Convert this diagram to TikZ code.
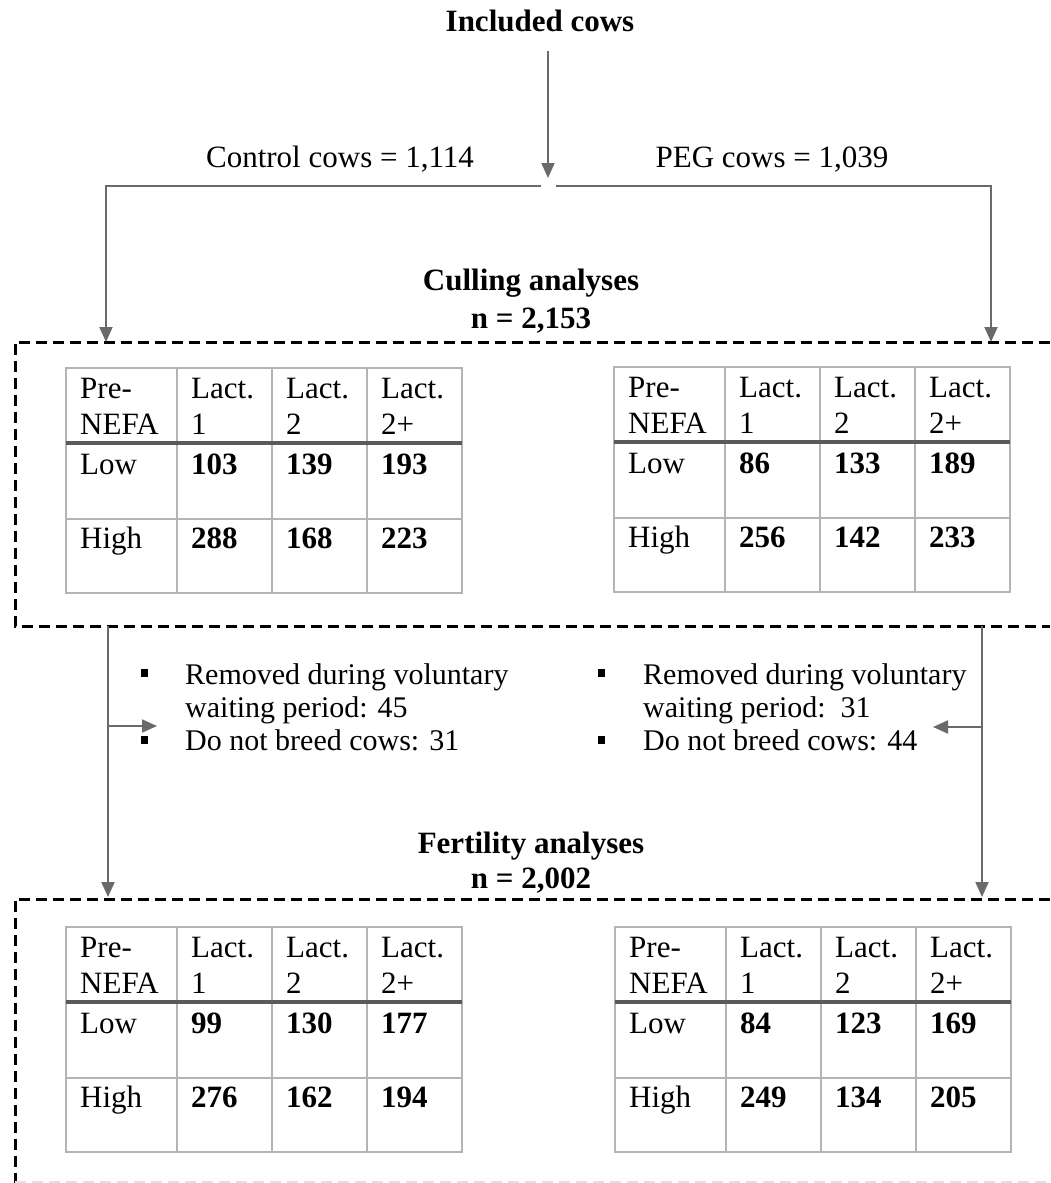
\documentclass[tikz,border=0pt]{standalone}
\usepackage{fontspec}
\setmainfont{Liberation Serif}
\usetikzlibrary{arrows.meta}
\definecolor{arrgray}{HTML}{6A6A6A}
\definecolor{tabgray}{HTML}{B4B4B4}
\definecolor{headgray}{HTML}{5A5A5A}
\tikzset{
  arr/.style={draw=arrgray, line width=2pt, -{Triangle[width=13pt,length=15pt]}},
  plain/.style={draw=arrgray, line width=2pt},
  dashbox/.style={draw=black, line width=3pt, dash pattern=on 11pt off 6pt},
  tabline/.style={draw=tabgray, line width=2pt},
  headline/.style={draw=headgray, line width=4.5pt},
  txt/.style={inner sep=0pt, anchor=base west, font=\fontsize{31}{36}\selectfont},
  ctxt/.style={inner sep=0pt, anchor=base, font=\fontsize{31}{36}\selectfont},
  btxt/.style={inner sep=0pt, anchor=base, font=\fontsize{31}{36}\selectfont\bfseries},
  cell/.style={inner sep=0pt, anchor=base west, font=\fontsize{31}{36}\selectfont},
  bcell/.style={inner sep=0pt, anchor=base west, font=\fontsize{31}{36}\selectfont\bfseries},
  bul/.style={inner sep=0pt, anchor=base west, font=\fontsize{30}{33}\selectfont},
}
\newcommand\cowtab[9]{%
\begin{scope}[shift={(#2,#3)}]
\draw[tabline] (0,0) rectangle (396,225);
\draw[tabline] (111,0) -- (111,225) (206,0) -- (206,225) (301,0) -- (301,225);
\draw[tabline] (0,151) -- (396,151);
\draw[headline] (0,75) -- (396,75);
\node[cell] (#1a) at (14,30) {Pre-};
\node[cell] (#1b) at (14,66) {NEFA};
\node[cell] (#1c) at (125,30) {Lact.};
\node[cell] (#1d) at (125,66) {1};
\node[cell] (#1e) at (220,30) {Lact.};
\node[cell] (#1f) at (220,66) {2};
\node[cell] (#1g) at (315,30) {Lact.};
\node[cell] (#1h) at (315,66) {2+};
\node[cell] (#1i) at (14,106) {Low};
\node[cell] (#1j) at (14,180) {High};
\node[bcell] (#1k) at (125,106) {#4};
\node[bcell] (#1l) at (220,106) {#5};
\node[bcell] (#1m) at (315,106) {#6};
\node[bcell] (#1n) at (125,180) {#7};
\node[bcell] (#1o) at (220,180) {#8};
\node[bcell] (#1p) at (315,180) {#9};
\end{scope}}
\begin{document}
\begin{tikzpicture}[x=1pt,y=-1pt]
\useasboundingbox (0,0) rectangle (1050,1183);
\fill[white] (0,0) rectangle (1050,1183);

% titles
\node[btxt] (inc) at (540,31) {Included cows};
\node[ctxt] (ctl) at (340,167) {Control cows = 1,114};
\node[ctxt] (peg) at (772,167) {PEG cows = 1,039};
\node[btxt] (cul) at (531,290) {Culling analyses};
\node[btxt] (culn) at (531,328) {n = 2,153};
\node[btxt] (fer) at (531,853) {Fertility analyses};
\node[btxt] (fern) at (531,888) {n = 2,002};

% coordinates
\coordinate (incbot) at (548,51);
\coordinate (split) at (548,178);
\coordinate (sL) at (541,186);
\coordinate (sR) at (556,186);
\coordinate (cL) at (106,342);
\coordinate (cR) at (991,342);
\coordinate (oL) at (108,626);
\coordinate (oR) at (982,626);
\coordinate (fL) at (108,897);
\coordinate (fR) at (982,897);
\coordinate (bL) at (108,726);
\coordinate (bR) at (982,727);
\coordinate (remL) at (157,726);
\coordinate (remR) at (933,727);

% dashed boxes
\draw[dashbox] (1050,342) -- (15,342) -- (15,626) -- (1050,626);
\draw[dashbox] (1050,899) -- (15,899) -- (15,1190);
\draw[draw=black!12, line width=3pt, dash pattern=on 11pt off 6pt] (15,1182) -- (1050,1182);

% arrows
\draw[arr] (incbot) -- (split);
\draw[arr] (sL) -| (cL);
\draw[arr] (sR) -| (cR);
\draw[arr] (oL) -- (fL);
\draw[arr] (oR) -- (fR);
\draw[arr] (bL) -- (remL);
\draw[arr] (bR) -- (remR);

% tables
\cowtab{ca}{66}{368}{103}{139}{193}{288}{168}{223}
\cowtab{cb}{614}{367}{86}{133}{189}{256}{142}{233}
\cowtab{fa}{66}{927}{99}{130}{177}{276}{162}{194}
\cowtab{fb}{615}{927}{84}{123}{169}{249}{134}{205}

% bullets
\fill[black] (141,669) rectangle (148,677);
\fill[black] (141,736) rectangle (148,744);
\fill[black] (598,669) rectangle (605,677);
\fill[black] (598,736) rectangle (605,744);
\node[bul] (l1) at (185,684) {Removed during voluntary};
\node[bul] (l2) at (185,717) {waiting period: 45};
\node[bul] (l3) at (185,750) {Do not breed cows: 31};
\node[bul] (r1) at (643,684) {Removed during voluntary};
\node[bul] (r2) at (643,717) {waiting period:\ \ 31};
\node[bul] (r3) at (643,750) {Do not breed cows: 44};
\end{tikzpicture}
\end{document}
